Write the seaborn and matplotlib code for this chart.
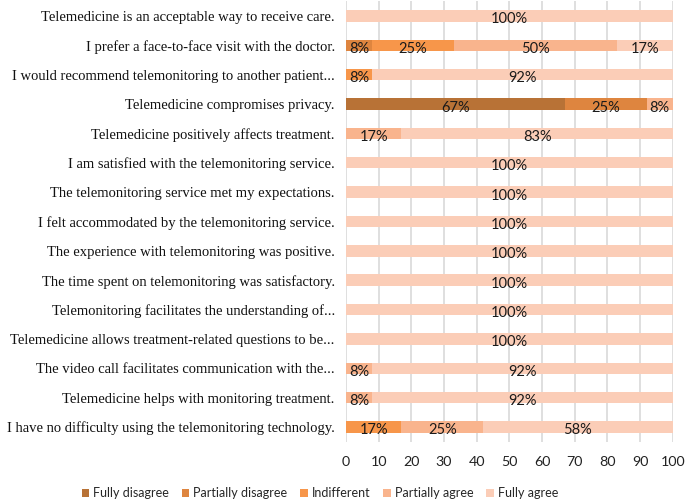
import matplotlib
matplotlib.use("Agg")
import matplotlib.pyplot as plt
from matplotlib.patches import Patch
import seaborn as sns
import numpy as np

statements = [
    "Telemedicine is an acceptable way to receive care.",
    "I prefer a face-to-face visit with the doctor.",
    "I would recommend telemonitoring to another patient...",
    "Telemedicine compromises privacy.",
    "Telemedicine positively affects treatment.",
    "I am satisfied with the telemonitoring service.",
    "The telemonitoring service met my expectations.",
    "I felt accommodated by the telemonitoring service.",
    "The experience with telemonitoring was positive.",
    "The time spent on telemonitoring was satisfactory.",
    "Telemonitoring facilitates the understanding of...",
    "Telemedicine allows treatment-related questions to be...",
    "The video call facilitates communication with the...",
    "Telemedicine helps with monitoring treatment.",
    "I have no difficulty using the telemonitoring technology.",
]
series_names = ["Fully disagree", "Partially disagree", "Indifferent",
                "Partially agree", "Fully agree"]
fully_disagree = [0, 0, 0, 67, 0, 0, 0, 0, 0, 0, 0, 0, 0, 0, 0]
partially_disagree = [0, 8, 0, 25, 0, 0, 0, 0, 0, 0, 0, 0, 0, 0, 0]
indifferent = [0, 25, 8, 0, 0, 0, 0, 0, 0, 0, 0, 0, 0, 0, 17]
partially_agree = [0, 50, 0, 8, 17, 0, 0, 0, 0, 0, 0, 0, 8, 8, 25]
fully_agree = [100, 17, 92, 0, 83, 100, 100, 100, 100, 100, 100, 100, 92, 92, 58]
x_ticks = [0, 10, 20, 30, 40, 50, 60, 70, 80, 90, 100]

colors = ["#B87236", "#DE853F", "#F7964A", "#F9B48D", "#FBCDB7"]

series = [fully_disagree, partially_disagree, indifferent, partially_agree, fully_agree]
vals = np.array(series, dtype=float)
cum = np.cumsum(vals, axis=0)

sns.set_style("white")
plt.rcParams["font.family"] = ["Lato", "DejaVu Sans"]

fig = plt.figure(figsize=(6.85, 5.03), dpi=100)
ax = fig.add_axes([0.505, 0.122, 0.477, 0.8755])

for i in reversed(range(len(series))):
    sns.barplot(x=cum[i], y=statements, color=colors[i], orient="h",
                width=0.39, ax=ax, saturation=1, linewidth=0)

ax.set_xlim(0, 100)
ax.set_ylim(14.5, -0.5)
ax.set_xticks(x_ticks)
ax.set_xticklabels([str(t) for t in x_ticks], fontsize=10.3, color="#222222")
ax.tick_params(axis="x", length=0, pad=10)
ax.tick_params(axis="y", length=0, pad=8)
for lab in ax.get_yticklabels():
    lab.set_fontfamily("Liberation Serif")
    lab.set_fontsize(10.5)
    lab.set_color("#111111")
ax.set_xlabel("")
ax.set_ylabel("")
ax.grid(axis="x", color="#D9D9D9", linewidth=1.2)
ax.set_axisbelow(True)
for s in ax.spines.values():
    s.set_visible(False)

for i in range(len(series)):
    for j in range(len(statements)):
        v = vals[i, j]
        if v > 0:
            center = cum[i, j] - v / 2
            ax.text(center, j + 0.12, f"{int(v)}%", ha="center", va="center",
                    fontsize=10.5, color="#1a1a1a")

handles = [Patch(facecolor=c, edgecolor="none", label=n) for c, n in zip(colors, series_names)]
fig.legend(handles=handles, loc="center", bbox_to_anchor=(0.467, 0.02), ncol=5,
           frameon=False, fontsize=9, handlelength=0.6, handleheight=0.6,
           handletextpad=0.3, columnspacing=1.05)

fig.savefig("out.png", dpi=100)
